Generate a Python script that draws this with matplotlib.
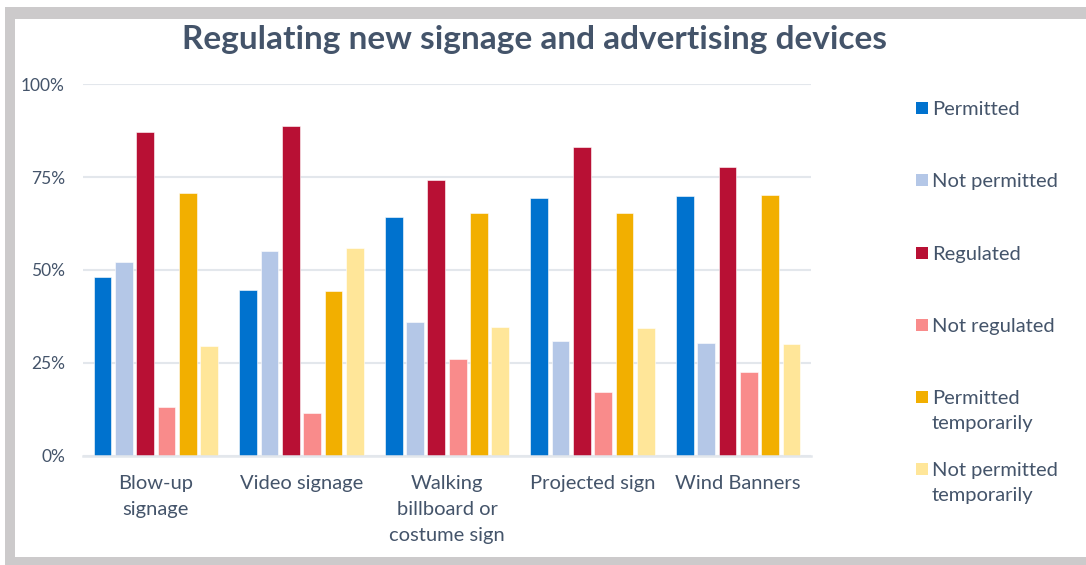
import numpy as np
import matplotlib.pyplot as plt
from matplotlib.patches import Rectangle

plt.rcParams['font.family'] = ['Lato', 'DejaVu Sans']

# Share of responses per device type (fraction of respondents)
categories = ["Blow-up\nsignage", "Video signage", "Walking\nbillboard or\ncostume sign",
              "Projected sign", "Wind Banners"]
series = ["Permitted", "Not permitted", "Regulated", "Not regulated",
          "Permitted\ntemporarily", "Not permitted\ntemporarily"]

permitted = [0.481, 0.447, 0.642, 0.694, 0.698]
not_permitted = [0.521, 0.550, 0.360, 0.309, 0.304]
regulated = [0.872, 0.888, 0.741, 0.832, 0.776]
not_regulated = [0.131, 0.114, 0.260, 0.171, 0.226]
permitted_temp = [0.706, 0.443, 0.654, 0.654, 0.702]
not_permitted_temp = [0.295, 0.558, 0.347, 0.343, 0.300]

values = [permitted, not_permitted, regulated, not_regulated,
          permitted_temp, not_permitted_temp]
colors = ["#0072CE", "#B4C7E7", "#B81034", "#F98B8B", "#F2AF00", "#FFE699"]

yticks = [0, 0.25, 0.5, 0.75, 1.0]
ytick_labels = ["0%", "25%", "50%", "75%", "100%"]

text_color = "#44546A"
grid_color = "#E3E7EC"
frame_color = "#CCCACB"

W, H = 1086, 565
fig = plt.figure(figsize=(W / 100, H / 100), dpi=100)
fig.patch.set_facecolor("white")

# grey frame around the chart (top, left, bottom)
def px_rect(x0, y0, x1, y1):
    return Rectangle((x0 / W, 1 - y1 / H), (x1 - x0) / W, (y1 - y0) / H,
                     transform=fig.transFigure, facecolor=frame_color,
                     edgecolor="none", zorder=0)

fig.add_artist(px_rect(5, 7, W, 19))
fig.add_artist(px_rect(5, 7, 15, H))
fig.add_artist(px_rect(5, 557, W, H))

ax = fig.add_axes([83 / W, (H - 455.7) / H, (811 - 83) / W, (455.7 - 84.3) / H])

x = np.arange(len(categories))
slot = 0.1465
bar_w = 0.1215
for i, (vals, col) in enumerate(zip(values, colors)):
    offset = (i - (len(series) - 1) / 2) * slot
    ax.bar(x + offset, vals, width=bar_w, color=col, edgecolor="white",
           linewidth=0.4, zorder=3)

ax.set_xlim(-0.5, len(categories) - 0.5)
ax.set_ylim(0, 1.0)
ax.set_yticks(yticks)
ax.set_yticklabels(ytick_labels, fontsize=12.5, color=text_color)
ax.set_xticks(x)
ax.set_xticklabels(categories, fontsize=14.5, color=text_color,
                   linespacing=1.62, va="top")
ax.tick_params(axis="both", length=0)
ax.tick_params(axis="y", pad=13)
ax.tick_params(axis="x", pad=14)
ax.grid(axis="y", color=grid_color, linewidth=1.5, zorder=0)
for side in ["top", "right", "left"]:
    ax.spines[side].set_visible(False)
ax.spines["bottom"].set_color(grid_color)
ax.spines["bottom"].set_linewidth(1.8)
ax.spines["bottom"].set_zorder(4)

fig.text(535 / W, 1 - 40 / H, "Regulating new signage and advertising devices",
         ha="center", va="center", fontsize=24, fontweight="bold",
         color=text_color)

# legend on the right, one entry per series
legend_y = [108, 180, 253, 325, 397, 469]
for name, col, ly in zip(series, colors, legend_y):
    fig.add_artist(Rectangle((916 / W, 1 - (ly + 6) / H), 12 / W, 12 / H,
                             transform=fig.transFigure, facecolor=col,
                             edgecolor="none"))
    fig.text(932 / W, 1 - (ly - 7) / H, name, ha="left", va="top",
             fontsize=14.5, color=text_color, linespacing=1.6)

fig.savefig("out.png", dpi=100)
